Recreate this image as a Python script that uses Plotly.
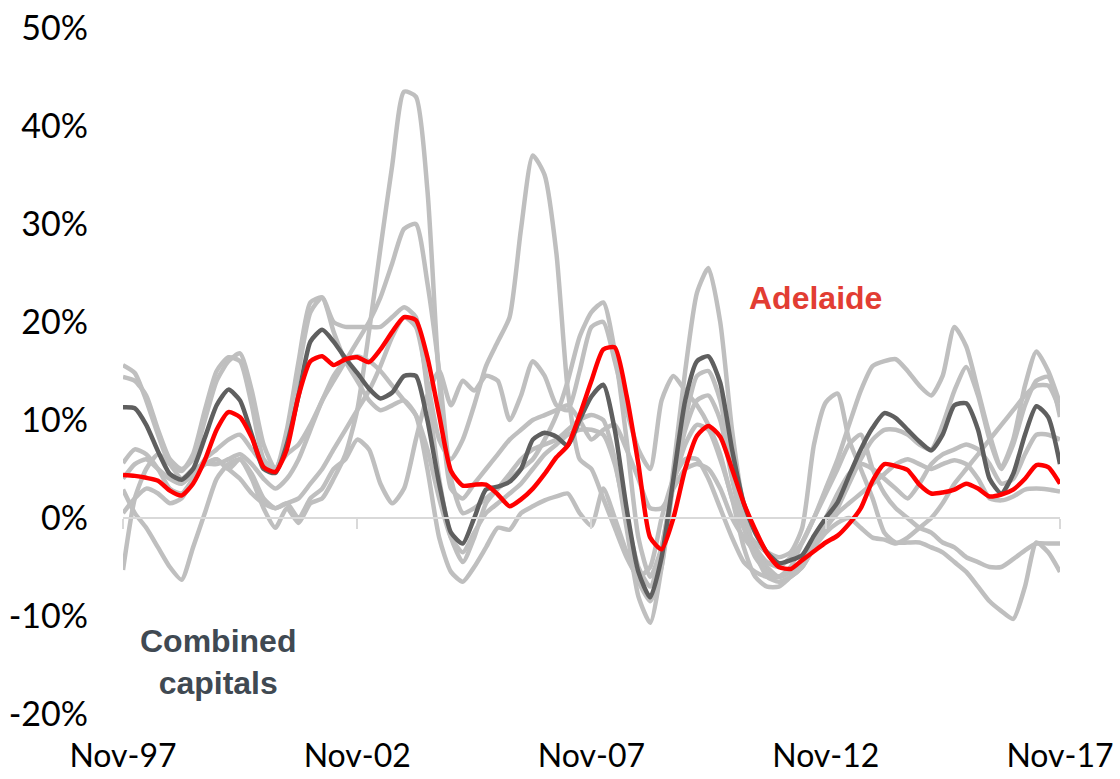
import pandas as pd
import plotly.graph_objects as go

# Quarterly observations, Nov-97 .. Nov-17 (annual % change in dwelling values)
dates = pd.date_range("1997-11-01", periods=81, freq="3MS")

combined = [11.3, 11.2, 9.5, 6.8, 4.5, 3.9, 5.0, 8.2, 11.5, 13.1, 12.0, 8.5, 5.0, 4.6, 7.5, 12.5,
            18.0, 19.2, 18.0, 16.3, 14.8, 13.2, 12.2, 12.8, 14.5, 14.5, 10.0, 3.5, -1.5, -2.6, 0.0, 2.9,
            3.2, 3.7, 5.0, 8.0, 8.7, 8.3, 7.4, 10.0, 12.4, 13.6, 9.0, 1.0, -5.5, -8.1, -4.0, 4.0,
            12.0, 16.0, 16.5, 13.8, 7.0, 1.5, -1.5, -3.5, -4.6, -4.3, -3.8, -1.8, 0.0, 1.6, 4.3, 7.0,
            9.2, 10.7, 10.2, 9.0, 7.8, 6.9, 8.5, 11.5, 11.7, 9.0, 4.0, 2.5, 4.5, 8.5, 11.4, 10.3, 5.5]

adelaide = [4.4, 4.3, 4.1, 3.8, 2.8, 2.3, 3.5, 5.9, 9.0, 10.8, 10.3, 8.2, 5.2, 4.7, 7.0, 12.5,
            16.0, 16.5, 15.6, 16.2, 16.4, 15.9, 17.2, 19.0, 20.5, 20.2, 16.4, 10.5, 4.8, 3.3, 3.4, 3.4,
            2.4, 1.2, 1.9, 3.0, 4.5, 6.2, 7.4, 10.5, 14.0, 17.2, 17.4, 12.5, 5.5, -2.0, -3.2, 0.0,
            5.0, 8.4, 9.4, 8.3, 5.0, 1.5, -1.2, -3.6, -5.0, -5.2, -4.3, -3.4, -2.5, -1.8, -0.6, 1.0,
            3.8, 5.5, 5.3, 4.9, 3.4, 2.5, 2.6, 2.9, 3.5, 3.0, 2.2, 2.4, 2.9, 4.0, 5.4, 5.2, 3.5]

sydney = [15.6, 14.8, 12.0, 8.5, 5.5, 4.8, 6.5, 11.0, 15.0, 16.4, 16.0, 11.5, 6.0, 5.0, 9.0, 16.0,
          22.0, 22.5, 19.0, 16.0, 14.0, 12.0, 11.0, 11.5, 12.0, 10.5, 5.0, -2.0, -5.5, -6.5, -5.0, -3.0,
          -1.0, -1.2, 0.5, 1.2, 1.8, 2.2, 2.5, 0.5, -0.8, 3.0, 0.0, -3.5, -6.5, -8.5, -5.0, 3.5,
          10.0, 14.5, 15.0, 12.0, 5.0, -0.5, -3.0, -4.5, -5.0, -4.0, -2.5, 0.0, 3.0, 6.0, 9.5, 13.0,
          15.5, 16.0, 16.2, 15.0, 13.5, 12.5, 14.5, 19.5, 17.5, 13.0, 8.5, 5.2, 8.0, 13.5, 17.0, 15.0, 11.7]

melbourne = [14.4, 14.0, 12.5, 9.0, 6.0, 5.0, 6.0, 10.0, 14.0, 16.0, 16.8, 13.0, 7.5, 5.0, 8.0, 15.0,
             21.0, 22.5, 20.0, 19.5, 19.5, 19.5, 19.5, 20.5, 21.5, 20.5, 13.0, 4.0, -2.0, -4.5, -2.0, 1.5,
             3.0, 4.5, 6.0, 7.0, 7.5, 8.0, 9.0, 10.0, 10.5, 10.0, 6.0, -1.0, -8.0, -10.7, -5.0, 5.0,
             15.0, 23.0, 25.5, 20.0, 9.0, 1.0, -3.5, -6.0, -6.5, -6.0, -5.0, -3.0, -1.0, 1.0, 3.5, 6.0,
             8.0, 9.0, 9.0, 8.5, 7.5, 7.0, 9.5, 13.0, 15.4, 12.5, 8.0, 5.0, 7.5, 11.5, 14.0, 14.4, 10.3]

brisbane = [5.6, 7.0, 6.5, 5.0, 3.0, 2.5, 4.0, 5.5, 5.5, 6.0, 6.5, 5.5, 4.0, 3.0, 4.0, 6.0,
            9.0, 12.0, 14.0, 16.0, 18.0, 20.0, 22.5, 26.0, 29.5, 30.0, 24.0, 15.0, 4.0, 0.5, 1.0, 2.0,
            3.0, 4.0, 5.0, 6.0, 8.0, 10.5, 14.0, 18.5, 21.0, 22.0, 17.0, 8.0, -2.0, -6.0, -3.0, 3.5,
            7.5, 9.5, 9.0, 6.0, 2.0, -3.0, -6.0, -7.0, -7.0, -6.0, -5.0, -3.0, -1.0, 0.5, 1.5, 2.5,
            3.5, 4.5, 5.5, 6.0, 5.5, 5.0, 5.5, 5.9, 5.5, 4.0, 2.0, 1.8, 2.2, 2.9, 3.0, 2.9, 2.7]

perth = [4.0, 5.5, 6.0, 5.0, 4.0, 3.5, 4.5, 5.5, 6.0, 5.0, 4.0, 2.5, 1.5, 1.0, 1.5, 2.0,
         3.5, 5.0, 7.0, 9.0, 11.0, 13.0, 15.5, 18.5, 20.5, 19.5, 14.0, 8.0, 6.0, 8.0, 11.5, 15.5,
         18.0, 20.5, 29.5, 37.0, 35.0, 27.0, 13.0, 6.0, 5.0, 2.0, -1.0, -4.0, -6.0, -5.0, 0.0, 4.0,
         6.0, 6.0, 4.0, 1.0, -2.0, -4.5, -5.5, -6.0, -6.0, -5.0, -2.5, 0.0, 2.5, 5.0, 7.5, 8.5,
         5.0, 2.5, 1.0, 0.0, -1.0, -1.5, -2.5, -3.0, -4.0, -4.5, -5.0, -5.0, -4.2, -3.3, -2.6, -2.6, -2.6]

hobart = [2.9, 0.5, -1.0, -3.0, -5.0, -6.3, -3.0, 0.5, 4.0, 5.5, 6.0, 4.0, 1.0, -1.0, 1.0, -0.5,
          1.5, 2.0, 4.0, 6.5, 11.0, 19.0, 27.5, 36.0, 43.5, 43.0, 33.5, 14.0, 3.0, 2.0, 3.5, 5.0,
          6.5, 8.0, 9.0, 10.0, 10.5, 11.0, 11.5, 10.0, 8.0, 9.0, 9.5, 7.0, 4.0, 1.0, 1.0, 3.0,
          5.0, 5.5, 5.0, 3.0, 0.0, -2.0, -3.5, -5.0, -6.0, -5.5, -4.5, -3.0, -1.5, -0.5, 0.0, -1.0,
          -2.0, -2.2, -2.6, -2.0, -1.0, 0.0, 1.5, 3.5, 5.0, 6.5, 8.0, 9.5, 11.0, 12.5, 13.5, 13.5, 11.0]

darwin = [-5.3, 2.0, 5.0, 6.5, 5.5, 4.0, 5.0, 5.5, 6.0, 5.0, 6.0, 4.5, 2.0, 1.0, 1.5, 0.0,
          2.0, 3.0, 5.0, 6.0, 8.0, 7.0, 3.5, 1.5, 3.0, 8.0, 12.5, 15.0, 11.5, 14.0, 13.0, 14.5,
          14.0, 10.0, 12.5, 16.0, 14.5, 11.5, 11.0, 15.0, 19.5, 20.0, 16.0, 11.0, 7.0, 5.0, 12.0, 14.5,
          13.0, 11.5, 9.5, 6.5, 2.0, -1.0, -2.5, -3.5, -4.0, -3.5, -1.0, 7.5, 11.8, 12.7, 8.0, 5.0,
          2.0, -1.5, -2.5, -2.5, -2.5, -3.0, -3.5, -4.5, -5.5, -7.0, -8.5, -9.5, -10.3, -7.0, -2.5, -3.5, -5.5]

canberra = [0.5, 2.0, 3.0, 2.5, 1.5, 2.0, 4.0, 6.0, 7.0, 8.0, 8.5, 7.0, 5.5, 5.0, 6.5, 7.5,
            9.5, 12.0, 14.5, 16.0, 16.5, 16.0, 15.0, 13.5, 12.0, 10.5, 7.0, 2.0, -2.0, -3.5, -1.5, 0.5,
            1.5, 2.5, 3.5, 5.0, 6.5, 7.5, 8.5, 9.0, 9.0, 8.5, 5.5, 0.0, -5.0, -7.0, -3.0, 3.5,
            9.0, 12.0, 12.5, 10.0, 4.0, -1.0, -4.0, -5.5, -6.0, -5.5, -4.5, -2.5, 0.0, 2.5, 4.5, 5.5,
            5.0, 4.0, 3.0, 2.0, 3.5, 5.5, 6.5, 7.0, 7.5, 7.0, 5.5, 3.5, 4.0, 6.5, 8.5, 8.5, 8.0]

others = {"Sydney": sydney, "Melbourne": melbourne, "Brisbane": brisbane, "Perth": perth,
          "Hobart": hobart, "Darwin": darwin, "Canberra": canberra}

tick_dates = ["1997-11-01", "2002-11-01", "2007-11-01", "2012-11-01", "2017-11-01"]
tick_text = ["Nov-97", "Nov-02", "Nov-07", "Nov-12", "Nov-17"]
y_ticks = [-20, -10, 0, 10, 20, 30, 40, 50]
y_text = [f"{v}%" for v in y_ticks]

LINE_W = 4.5
fig = go.Figure()
for name, vals in others.items():
    fig.add_trace(go.Scatter(x=dates, y=vals, mode="lines", name=name,
                             line=dict(color="#BFBFBF", width=LINE_W, shape="spline", smoothing=0.6),
                             hoverinfo="skip"))
fig.add_trace(go.Scatter(x=dates, y=combined, mode="lines", name="Combined capitals",
                         line=dict(color="#5F5F5F", width=LINE_W, shape="spline", smoothing=0.6)))
fig.add_trace(go.Scatter(x=dates, y=adelaide, mode="lines", name="Adelaide",
                         line=dict(color="#FF0000", width=LINE_W, shape="spline", smoothing=0.6)))
# invisible trace to carry the zero-level category axis
fig.add_trace(go.Scatter(x=dates, y=adelaide, xaxis="x2", mode="lines",
                         line=dict(width=0), opacity=0, hoverinfo="skip", showlegend=False))

x_range = ["1997-11-01", "2017-11-01"]
fig.update_layout(
    template="none",
    width=1120, height=779,
    margin=dict(l=123, r=60, t=28, b=65),
    paper_bgcolor="white", plot_bgcolor="white",
    showlegend=False,
    font=dict(family="Lato", color="#000000"),
    xaxis=dict(type="date", range=x_range, tickmode="array", tickvals=tick_dates,
               ticktext=tick_text, showgrid=False, zeroline=False, showline=False,
               ticks="", tickfont=dict(family="Lato", size=32, color="#000000"),
               ticklabelstandoff=20, ticklabeloverflow="allow", automargin=False),
    xaxis2=dict(type="date", range=x_range, overlaying="x", anchor="free",
                position=20 / 70, side="bottom", showline=True, linecolor="#D9D9D9",
                linewidth=2, ticks="outside", ticklen=10, tickwidth=2, tickcolor="#D9D9D9",
                tickmode="array", tickvals=tick_dates, showticklabels=False,
                showgrid=False, zeroline=False, automargin=False),
    yaxis=dict(range=[-20, 50], tickmode="array", tickvals=y_ticks, ticktext=y_text,
               showgrid=False, zeroline=False, showline=False, ticks="",
               tickfont=dict(family="Lato", size=34, color="#000000"),
               ticklabelstandoff=34, ticklabeloverflow="allow", automargin=False),
    annotations=[
        dict(x="2012-08-15", y=22.5, xref="x", yref="y", text="<b>Adelaide</b>",
             showarrow=False, font=dict(family="Liberation Sans", size=32, color="#E23D33")),
        dict(x="1999-11-15", y=-14.7, xref="x", yref="y", text="<b>Combined<br>capitals</b>",
             showarrow=False, font=dict(family="Liberation Sans", size=32, color="#404952")),
    ],
)

fig.write_html(
    "out.html",
    config={"displayModeBar": False, "staticPlot": True},
    post_script="document.body.style.margin='0';document.body.style.overflow='hidden';",
)
